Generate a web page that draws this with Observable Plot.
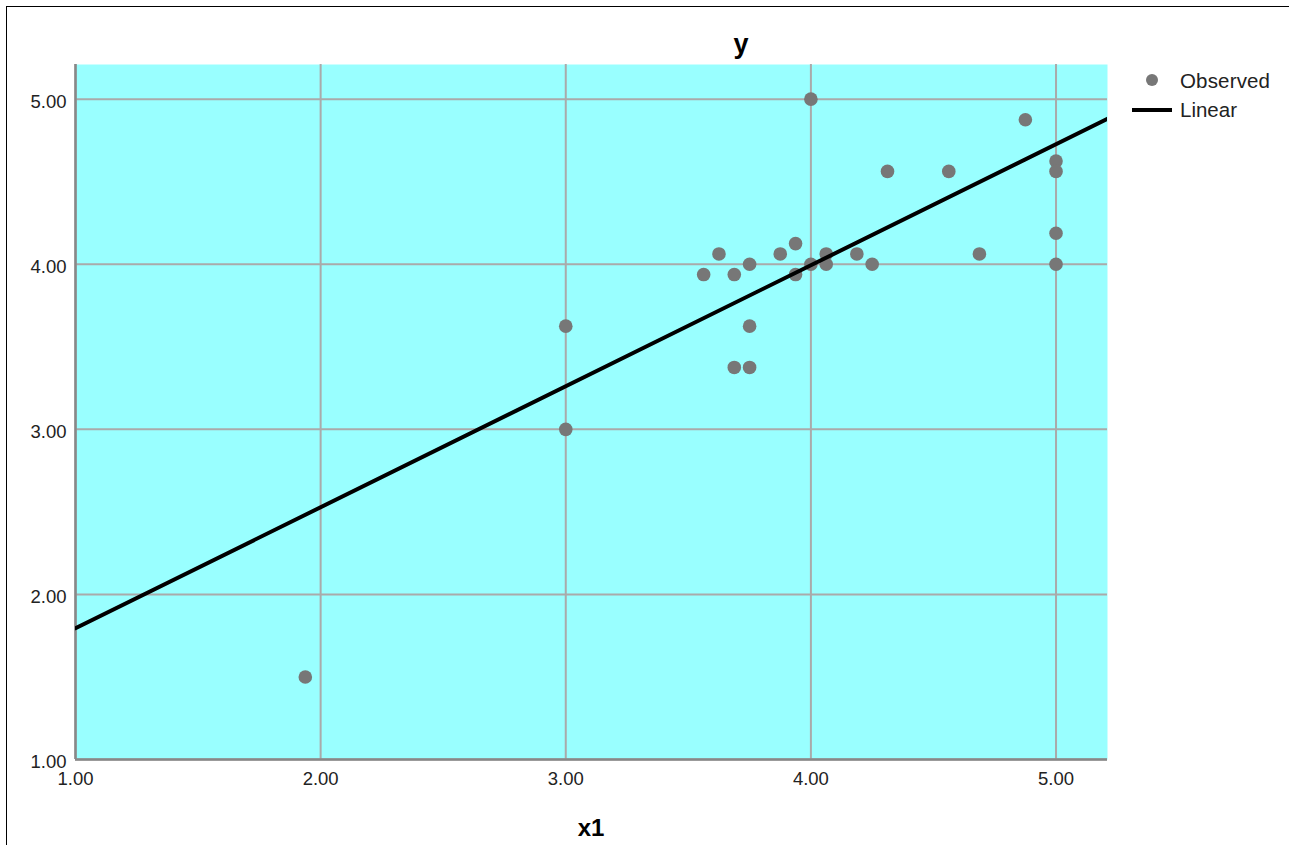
<!DOCTYPE html>
<html>
<head>
<meta charset="utf-8">
<script src="https://cdn.jsdelivr.net/npm/d3@7"></script>
<script src="https://cdn.jsdelivr.net/npm/@observablehq/plot@0.6"></script>
<style>
  html, body { margin: 0; padding: 0; background: #fff; }
  #wrap { position: relative; width: 1289px; height: 845px; overflow: hidden; font-family: "Liberation Sans", Arial, sans-serif; }
  #frame { position: absolute; left: 6px; top: 6px; width: 1300px; height: 900px; border-left: 1.5px solid #000; border-top: 1.5px solid #000; box-sizing: border-box; }
  #chart { position: absolute; left: 0; top: 0; }
  .title { position: absolute; font-weight: bold; color: #000; }
  .legend { position: absolute; color: #222; }
</style>
</head>
<body>
<div id="wrap">
  <div id="frame"></div>
  <div id="chart"></div>
  <div class="title" id="ttl" style="left:0; width:1482px; text-align:center; top:29px; font-size:27px; line-height:30px;">y</div>
  <div class="title" id="xl" style="left:0; width:1182px; text-align:center; top:815px; font-size:24px; line-height:26px;">x1</div>
  <svg class="legend" style="left:1125px; top:64px;" width="164" height="60">
    <circle cx="27" cy="16" r="6" fill="#777777"></circle>
    <text x="55" y="24" font-size="20.5" fill="#222" textLength="90">Observed</text>
    <line x1="7" x2="47" y1="46" y2="46" stroke="#000" stroke-width="4"></line>
    <text x="55" y="53" font-size="20.5" fill="#222">Linear</text>
  </svg>
</div>
<script>
const x1 = [1.9375, 3.0, 3.0, 3.5625, 3.625, 3.6875, 3.6875, 3.75, 3.75, 3.75,
            3.875, 3.9375, 3.9375, 4.0, 4.0, 4.0625, 4.0625, 4.1875, 4.25,
            4.3125, 4.5625, 4.6875, 4.875, 5.0, 5.0, 5.0, 5.0];
const yv = [1.5, 3.625, 3.0, 3.9375, 4.0625, 3.9375, 3.375, 4.0, 3.625, 3.375,
            4.0625, 4.125, 3.9375, 4.0, 5.0, 4.0625, 4.0, 4.0625, 4.0,
            4.5625, 4.5625, 4.0625, 4.875, 4.625, 4.5625, 4.1875, 4.0];
// Linear fit
const fitIntercept = 1.062;
const fitSlope = 0.733;
const xDomain = [1, 5.21];
const yDomain = [1, 5.21];
const tickValues = [1, 2, 3, 4, 5];

const pts = x1.map((x, i) => ({x, y: yv[i]}));
const fit = xDomain.map(x => ({x, y: fitIntercept + fitSlope * x}));

const chart = Plot.plot({
  width: 1289,
  height: 845,
  marginLeft: 75,
  marginRight: 182,
  marginTop: 64,
  marginBottom: 86,
  style: { fontFamily: "'Liberation Sans', Arial, sans-serif", background: "transparent", overflow: "visible" },
  x: { domain: xDomain, ticks: tickValues },
  y: { domain: yDomain, ticks: tickValues },
  marks: [
    Plot.frame({ fill: "#99ffff", stroke: null }),
    Plot.gridX(tickValues, { stroke: "#aaaaaa", strokeOpacity: 1, strokeWidth: 2 }),
    Plot.gridY(tickValues, { stroke: "#aaaaaa", strokeOpacity: 1, strokeWidth: 2 }),
    Plot.ruleX([xDomain[0]], { stroke: "#888888", strokeWidth: 2.5 }),
    Plot.ruleY([yDomain[0]], { stroke: "#888888", strokeWidth: 2.5 }),
    Plot.axisX(tickValues, { tickSize: 0, tickPadding: 12, tickFormat: d3.format(".2f"), fontSize: 18.5, fill: "#222", label: null }),
    Plot.axisY(tickValues, { tickSize: 0, tickPadding: 9, tickFormat: d3.format(".2f"), fontSize: 18.5, fill: "#222", label: null, dy: 3 }),
    Plot.dot(pts, { x: "x", y: "y", r: 6.8, fill: "#777777", stroke: null }),
    Plot.line(fit, { x: "x", y: "y", stroke: "#000", strokeWidth: 4, clip: true })
  ]
});
document.getElementById("chart").appendChild(chart);
</script>
</body>
</html>
